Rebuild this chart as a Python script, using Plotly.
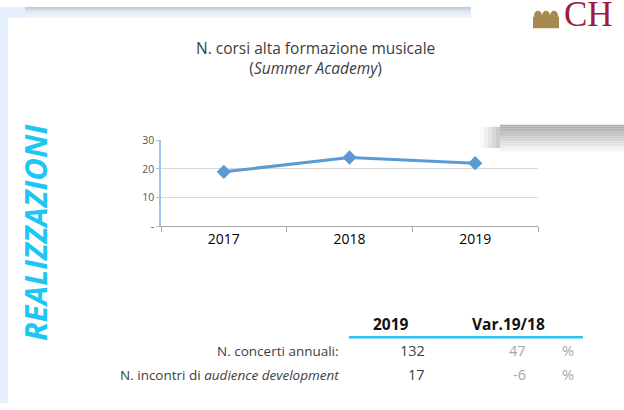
import plotly.graph_objects as go

W, H = 624, 410

# ---- data ----
years = ["2017", "2018", "2019"]
corsi = [19, 24, 22]
y_tickvals = [0, 10, 20, 30]
y_ticktext = ["-", "10", "20", "30"]

title_line1 = "N. corsi alta formazione musicale"
title_line2 = "(<i>Summer Academy</i>)"
side_label = "REALIZZAZIONI"

table_headers = ["2019", "Var.19/18"]
table_labels = ["N. concerti annuali:", "N. incontri di <i>audience development</i>"]
table_2019 = [132, 17]
table_var = [47, -6]


def px(x):
    return x / W


def py(y):
    return 1 - y / H


fig = go.Figure()
fig.add_trace(go.Scatter(
    x=years, y=corsi, mode="lines+markers",
    line=dict(color="#5b9bd5", width=3),
    marker=dict(symbol="diamond", size=11, color="#5b9bd5"),
    hoverinfo="skip", showlegend=False,
))

shapes = []
# left light-blue strip
shapes.append(dict(type="rect", xref="paper", yref="paper", x0=0, x1=px(8), y0=0, y1=1,
                   fillcolor="#e4f0fd", line_width=0, layer="below"))
# top band gradient (dark top -> light bottom)
band_cols = ["#c3cdd8", "#c8d2dd", "#cdd7e2", "#d2dce7", "#d7e1ec", "#dbe5f0",
             "#dfe9f4", "#e2ecf8", "#e4eefa", "#e5effb", "#e6f0fc"]
for i, c in enumerate(band_cols):
    shapes.append(dict(type="rect", xref="paper", yref="paper", x0=px(0), x1=px(471),
                       y0=py(i + 1), y1=py(i), fillcolor=c, line_width=0, layer="below"))
# lighter top-left corner fade
shapes.append(dict(type="rect", xref="paper", yref="paper", x0=0, x1=px(25),
                   y0=py(11), y1=1, fillcolor="#e4f0fd", line_width=0, layer="below"))
# right gray shadow band
shadow_cols = ["#acacac", "#afafaf", "#b3b3b3", "#b7b7b7", "#bcbcbc", "#c1c1c1",
               "#c7c7c7", "#cccccc", "#d2d2d2", "#d8d8d8", "#dddddd", "#e3e3e3",
               "#e8e8e8", "#ededed", "#f2f2f2", "#f7f7f7"]
y0s = 122
for i, c in enumerate(shadow_cols):
    shapes.append(dict(type="rect", xref="paper", yref="paper", x0=px(500), x1=1,
                       y0=py(y0s + (i + 1) * 1.75), y1=py(y0s + i * 1.75),
                       fillcolor=c, line_width=0, layer="below"))
# left fade of shadow
fade = ["#fafafa", "#f0f0f0", "#e4e4e4", "#d8d8d8", "#cccccc"]
for i, c in enumerate(fade):
    shapes.append(dict(type="rect", xref="paper", yref="paper", x0=px(480 + i * 4), x1=px(484 + i * 4),
                       y0=py(146), y1=py(124), fillcolor=c, line_width=0, layer="below"))
# table header underline
shapes.append(dict(type="line", xref="paper", yref="paper", x0=px(349), x1=px(583),
                   y0=py(342), y1=py(342), line=dict(color="#2ec4ef", width=2.5)))
# logo icon (gold)
shapes.append(dict(type="rect", xref="paper", yref="paper", x0=px(533), x1=px(559),
                   y0=py(22), y1=py(10), fillcolor="#a88a4f", line_width=0))
for cx in [538, 546, 554]:
    shapes.append(dict(type="circle", xref="paper", yref="paper", x0=px(cx - 4), x1=px(cx + 4),
                       y0=py(14), y1=py(4), fillcolor="#a88a4f", line_width=0))

ann = []
font_main = "Open Sans"
ann.append(dict(text=title_line1 + "<br>" + title_line2, x=px(315), y=py(53), xref="paper", yref="paper",
                showarrow=False, font=dict(family=font_main, size=15.5, color="#404040"),
                xanchor="center", yanchor="middle"))
ann.append(dict(text="<b><i>" + side_label + "</i></b>", x=px(35), y=py(234), xref="paper", yref="paper",
                showarrow=False, textangle=-90,
                font=dict(family="Open Sans", size=31, color="#1ec6f5"),
                xanchor="center", yanchor="middle"))
ann.append(dict(text="CH", x=px(562), y=py(30), xref="paper", yref="paper", showarrow=False,
                font=dict(family="Liberation Serif", size=35, color="#a3193c"),
                xanchor="left", yanchor="bottom"))
# table
hdr_x = [391, 508]
for h, x in zip(table_headers, hdr_x):
    ann.append(dict(text="<b>" + h + "</b>", x=px(x), y=py(328), xref="paper", yref="paper",
                    showarrow=False, font=dict(family=font_main, size=15.5, color="#111111"),
                    xanchor="center", yanchor="middle"))
row_y = [356, 381]
for lab, v, d, yy in zip(table_labels, table_2019, table_var, row_y):
    ann.append(dict(text=lab, x=px(341), y=py(yy), xref="paper", yref="paper", showarrow=False,
                    font=dict(family=font_main, size=13.5, color="#404040"),
                    xanchor="right", yanchor="middle"))
    ann.append(dict(text=str(v), x=px(427), y=py(yy), xref="paper", yref="paper", showarrow=False,
                    font=dict(family=font_main, size=14.5, color="#404040"),
                    xanchor="right", yanchor="middle"))
    ann.append(dict(text=str(d), x=px(528), y=py(yy), xref="paper", yref="paper", showarrow=False,
                    font=dict(family=font_main, size=14.5, color="#a6a6a6"),
                    xanchor="right", yanchor="middle"))
    ann.append(dict(text="%", x=px(568), y=py(yy), xref="paper", yref="paper", showarrow=False,
                    font=dict(family=font_main, size=14.5, color="#a6a6a6"),
                    xanchor="center", yanchor="middle"))

fig.update_layout(
    width=W, height=H, margin=dict(l=0, r=0, t=0, b=0),
    paper_bgcolor="white", plot_bgcolor="rgba(0,0,0,0)",
    shapes=shapes, annotations=ann, showlegend=False,
    xaxis=dict(domain=[px(161), px(538)], type="category", range=[-0.5, 2.5],
               showline=True, linecolor="#a6a6a6", linewidth=1,
               ticks="outside", tickson="boundaries", ticklen=5, tickcolor="#a6a6a6",
               showgrid=False, zeroline=False,
               tickfont=dict(family="Open Sans", size=14, color="#000000")),
    yaxis=dict(domain=[py(227), py(138)], range=[0, 30], tickvals=y_tickvals, ticktext=y_ticktext,
               showline=True, linecolor="#9dc3e6", linewidth=1.5,
               ticks="outside", ticklen=3, tickcolor="#9dc3e6",
               showgrid=True, gridcolor="#d9d9d9", gridwidth=1, zeroline=False,
               tickfont=dict(family="Open Sans", size=10.5, color="#595959")),
)

fig.write_html("out.html", config={"displayModeBar": False},
               post_script="document.body.style.margin='0';document.body.style.overflow='hidden';")
